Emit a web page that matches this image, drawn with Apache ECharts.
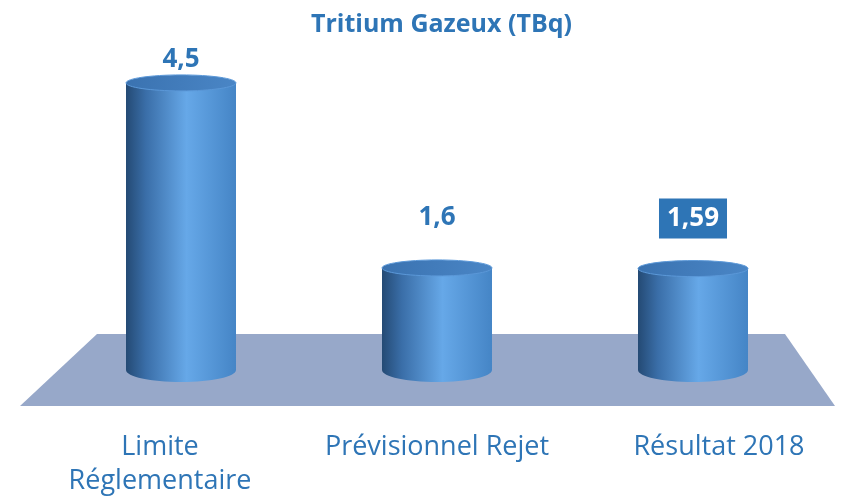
<!DOCTYPE html>
<html>
<head>
<meta charset="utf-8">
<script src="https://cdn.jsdelivr.net/npm/echarts@6/dist/echarts.min.js"></script>
<style>html,body{margin:0;padding:0;background:#fff}#c{width:841px;height:503px}</style>
</head>
<body>
<div id="c"></div>
<script>
const titleText = 'Tritium Gazeux (TBq)';
const categories = ['Limite\nRéglementaire', 'Prévisionnel Rejet', 'Résultat 2018'];
const values = [4.5, 1.6, 1.59];

const chart = echarts.init(document.getElementById('c'));
const blue = '#2E75B6';

function fmt(v) { return String(v).replace('.', ','); }

const lblBase = { color: blue, fontFamily: 'Open Sans', fontSize: 27, lineHeight: 34 };

chart.setOption({
  animation: false,
  title: {
    text: titleText, left: 306, top: 7,
    textStyle: { color: blue, fontFamily: 'Open Sans', fontWeight: 'bold', fontSize: 25 }
  },
  grid: { left: 53, right: 20, top: 51, bottom: 133 },
  xAxis: {
    type: 'category', data: categories,
    axisLine: { show: false }, axisTick: { show: false }, splitLine: { show: false },
    axisLabel: {
      margin: 60, interval: 0, ...lblBase,
      formatter: function (val, idx) {
        const key = idx === 0 ? 'l' : (idx === categories.length - 1 ? 'r' : 'm');
        return val.split('\n').map(s => '{' + key + '|' + s + '}').join('\n');
      },
      rich: {
        l: { ...lblBase, padding: [0, 42, 0, 0] },
        m: { ...lblBase },
        r: { ...lblBase, padding: [0, 0, 0, 52] }
      }
    }
  },
  yAxis: { type: 'value', min: 0, max: 5, show: false },
  graphic: [{
    type: 'polygon', z: 0,
    shape: { points: [[97, 334], [785, 334], [835, 406], [20, 406]] },
    style: { fill: '#97a8c9' }
  }],
  series: [{
    type: 'custom', z: 5,
    data: values.map((v, i) => [i, v]),
    renderItem: function (params, api) {
      const x = api.value(0), v = api.value(1);
      const top = api.coord([x, v]);
      const base = api.coord([x, 0]);
      const w = 110, rx = w / 2, ryTop = 8, ryBot = 12;
      const cx = top[0];
      const grad = new echarts.graphic.LinearGradient(0, 0, 1, 0, [
        { offset: 0, color: '#244a74' },
        { offset: 0.18, color: '#3a6ea8' },
        { offset: 0.55, color: '#66a8e8' },
        { offset: 1, color: '#4585c6' }
      ]);
      const topGrad = new echarts.graphic.LinearGradient(0, 0, 1, 1, [
        { offset: 0, color: '#3a72b0' },
        { offset: 1, color: '#4a86c6' }
      ]);
      const labelY = Math.max(top[1] - 50, 60);
      const boxed = params.dataIndex === values.length - 1;
      return {
        type: 'group',
        children: [
          { type: 'ellipse', shape: { cx: cx, cy: base[1], rx: rx, ry: ryBot }, style: { fill: grad } },
          { type: 'rect', shape: { x: cx - rx, y: top[1], width: w, height: base[1] - top[1] }, style: { fill: grad } },
          { type: 'ellipse', shape: { cx: cx, cy: top[1], rx: rx, ry: ryTop }, style: { fill: topGrad, stroke: '#5b98d8', lineWidth: 1 } },
          {
            type: 'text', x: cx, y: labelY,
            style: {
              text: fmt(v), fill: boxed ? '#fff' : blue,
              font: 'bold 26px "Open Sans"',
              align: 'center', verticalAlign: 'middle',
              backgroundColor: boxed ? blue : null,
              padding: boxed ? [7, 8, 7, 8] : 0
            }
          }
        ]
      };
    }
  }]
});
</script>
</body>
</html>
